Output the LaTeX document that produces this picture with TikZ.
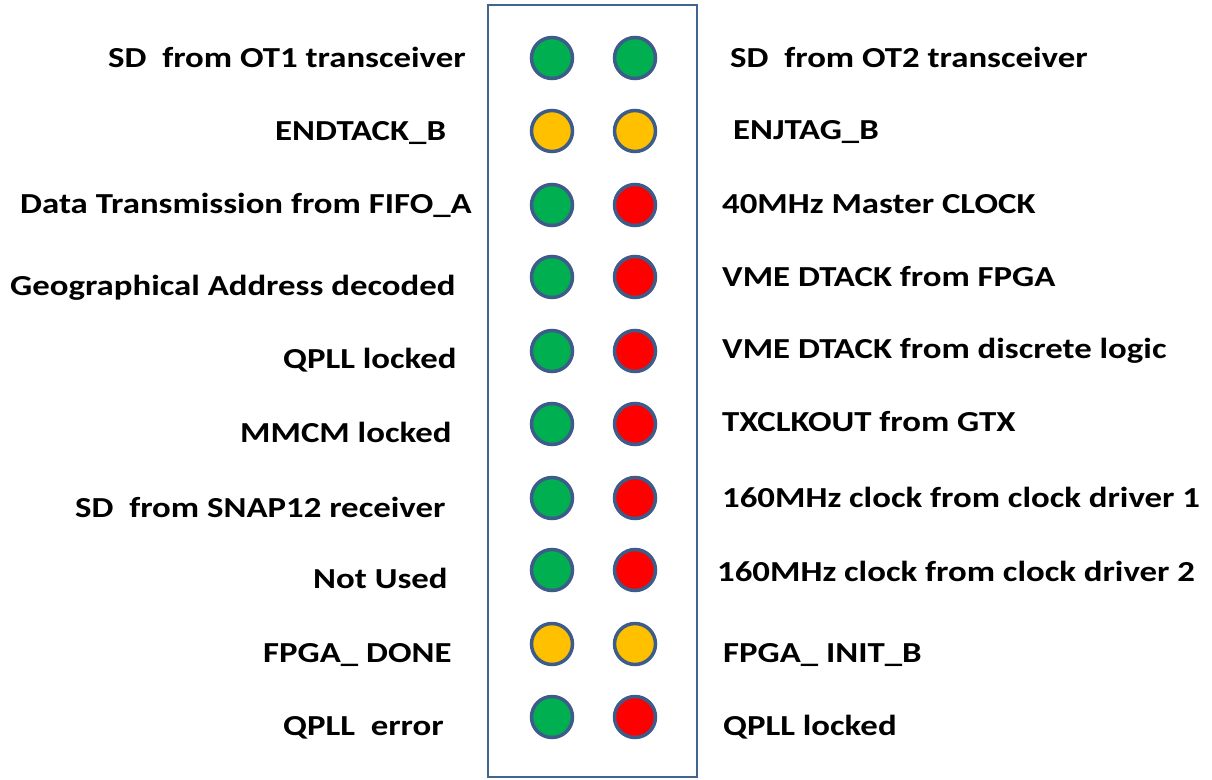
\documentclass[tikz,border=0pt]{standalone}
\usepackage{fontspec}
\setmainfont{Carlito}
\definecolor{ledborder}{HTML}{3D5C8A}
\definecolor{boxborder}{HTML}{41658F}
\definecolor{ledgreen}{HTML}{00B050}
\definecolor{ledyellow}{HTML}{FFC000}
\definecolor{ledred}{HTML}{FF0000}
\newcommand{\hstretch}[1]{\scalebox{1.2}[1]{#1}}
\tikzset{
  led/.style={circle, draw=ledborder, line width=3.5pt, minimum size=41pt, inner sep=0pt},
  gled/.style={led, fill=ledgreen},
  yled/.style={led, fill=ledyellow},
  rled/.style={led, fill=ledred},
  lbl/.style={anchor=base west, inner sep=0pt, font=\fontsize{29}{31}\selectfont\bfseries},
  panel/.style={draw=boxborder, line width=2.5pt},
}
\begin{document}
\begin{tikzpicture}[x=1pt, y=-1pt]
\useasboundingbox (0,0) rectangle (1212,779);
\fill[white] (0,0) rectangle (1212,779);
\draw[panel] (488,5) rectangle (697,777);
% LEDs
\node[gled] (L1) at (552,58) {};
\node[gled] (R1) at (635,58) {};
\node[yled] (L2) at (552,131) {};
\node[yled] (R2) at (635,131) {};
\node[gled] (L3) at (552,205) {};
\node[rled] (R3) at (635,205) {};
\node[gled] (L4) at (552,277) {};
\node[rled] (R4) at (635,277) {};
\node[gled] (L5) at (552,351) {};
\node[rled] (R5) at (635,351) {};
\node[gled] (L6) at (552,424) {};
\node[rled] (R6) at (635,424) {};
\node[gled] (L7) at (552,498) {};
\node[rled] (R7) at (635,498) {};
\node[gled] (L8) at (552,570) {};
\node[rled] (R8) at (635,570) {};
\node[yled] (L9) at (552,644) {};
\node[yled] (R9) at (635,644) {};
\node[gled] (L10) at (552,717) {};
\node[rled] (R10) at (635,717) {};
% left labels
\node[lbl] (tl1) at (108,67) {\hstretch{SD\ \ from OT1 transceiver}};
\node[lbl] (tl2) at (275,140) {\hstretch{ENDTACK\_B}};
\node[lbl] (tl3) at (20,213) {\hstretch{Data Transmission from FIFO\_A}};
\node[lbl] (tl4) at (10,295) {\hstretch{Geographical Address decoded}};
\node[lbl] (tl5) at (283,368) {\hstretch{QPLL locked}};
\node[lbl] (tl6) at (240,442) {\hstretch{MMCM locked}};
\node[lbl] (tl7) at (75,517) {\hstretch{SD\ \ from SNAP12 receiver}};
\node[lbl] (tl8) at (313,588) {\hstretch{Not Used}};
\node[lbl] (tl9) at (263,662) {\hstretch{FPGA\_ DONE}};
\node[lbl] (tl10) at (283,735) {\hstretch{QPLL\ \ error}};
% right labels
\node[lbl] (tr1) at (730,67) {\hstretch{SD\ \ from OT2 transceiver}};
\node[lbl] (tr2) at (733,139) {\hstretch{ENJTAG\_B}};
\node[lbl] (tr3) at (722,213) {\hstretch{40MHz Master CLOCK}};
\node[lbl] (tr4) at (722,286) {\hstretch{VME DTACK from FPGA}};
\node[lbl] (tr5) at (722,358) {\hstretch{VME DTACK from discrete logic}};
\node[lbl] (tr6) at (722,431) {\hstretch{TXCLKOUT from GTX}};
\node[lbl] (tr7) at (722,507) {\hstretch{160MHz clock from clock driver 1}};
\node[lbl] (tr8) at (717,581) {\hstretch{160MHz clock from clock driver 2}};
\node[lbl] (tr9) at (723,662) {\hstretch{FPGA\_ INIT\_B}};
\node[lbl] (tr10) at (723,735) {\hstretch{QPLL locked}};
\end{tikzpicture}
\end{document}
